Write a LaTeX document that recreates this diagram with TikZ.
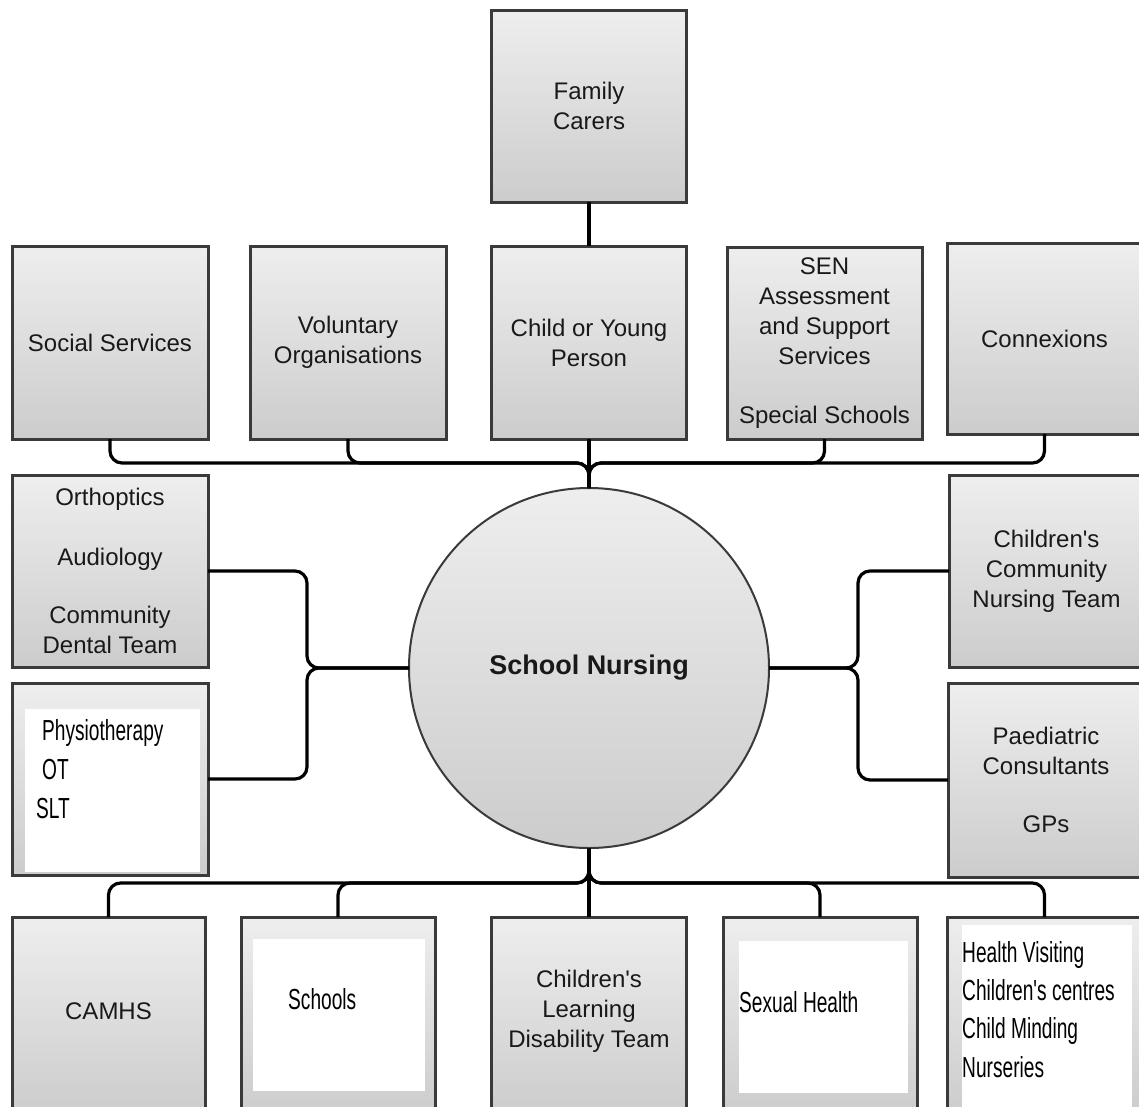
\documentclass[tikz,border=0pt]{standalone}
\usepackage{fontspec}
\setmainfont{Liberation Sans}
\newfontfamily\gfam{Liberation Sans}
\newfontfamily\narrowfam[FakeStretch=0.66]{Liberation Sans}
\newcommand\gfont{\gfam\fontsize{24}{30}\selectfont}
\newcommand\nfont{\narrowfam\fontsize{29}{39}\selectfont}
\newcommand\bfontsn{\gfam\bfseries\fontsize{27}{32}\selectfont}
\definecolor{boxline}{RGB}{58,58,58}
\definecolor{gtop}{RGB}{238,238,238}
\definecolor{gbot}{RGB}{204,204,204}
\definecolor{txt}{RGB}{25,25,25}
\tikzset{
  box/.style={draw=boxline, line width=3pt, top color=gtop, bottom color=gbot,
    inner sep=0pt, outer sep=0pt, minimum width=195pt, minimum height=192pt},
  lbl/.style={font=\gfont, text=txt, align=center, inner sep=0pt},
  nlbl/.style={font=\nfont, text=black, anchor=base west, inner sep=0pt},
  conn/.style={line width=3.2pt, black, rounded corners=12pt},
  whitein/.style={fill=white},
}
\begin{document}
\begin{tikzpicture}[x=1pt,y=-1pt]
\useasboundingbox (0,0) rectangle (1139,1106);
\clip (0,0) rectangle (1139,1106);

% top
\node[box, lbl] (fam) at (589,106) {Family\\Carers};
% second row
\node[box, lbl, minimum width=196pt, minimum height=193pt] (ss) at (110,342.5) {Social Services};
\node[box, lbl, minimum width=196pt, minimum height=193pt] (vo) at (348,342.5) {Voluntary\\Organisations};
\node[box, lbl, minimum height=193pt] (child) at (589,342.5) {Child or Young\\Person};
\node[box, lbl] (sen) at (824.5,343) {SEN\\Assessment\\and Support\\Services\\[29pt]Special Schools};
\node[box, lbl, minimum height=191pt] (conx) at (1044.5,338.5) {Connexions};
% side boxes
\node[box, lbl, minimum width=196pt] (orth) at (110,571) {Orthoptics\\[30pt]Audiology\\[28pt]Community\\Dental Team};
\node[box, minimum width=196pt] (phys) at (110,779) {};
\node[box, lbl] (ccnt) at (1046.5,571) {Children's\\Community\\Nursing Team};
\node[box, lbl, minimum width=196pt, minimum height=194pt] (paed) at (1046,780) {Paediatric\\Consultants\\[28pt]GPs};
% bottom row
\node[box, minimum width=193pt, minimum height=198pt] (camhs) at (108.5,1016) {};
\node[box, minimum width=194pt, minimum height=198pt] (schools) at (338,1016) {};
\node[box, minimum height=198pt] (cldt) at (589,1016) {};
\node[box, minimum width=194pt, minimum height=198pt] (sexh) at (820,1016) {};
\node[box, minimum height=198pt] (hv) at (1044.5,1016) {};

% white inner panels
\fill[whitein] ([shift={(13,26)}]phys.north west) rectangle ([shift={(-8,-3)}]phys.south east);
\fill[whitein] ([shift={(12,22)}]schools.north west) rectangle ([shift={(-10,-24)}]schools.south east);
\fill[whitein] ([shift={(16,24)}]sexh.north west) rectangle ([shift={(-9,-22)}]sexh.south east);
\fill[whitein] ([shift={(15,8)}]hv.north west) rectangle ([shift={(-10,0)}]hv.south east);

% centre
\node[circle, draw=boxline, line width=2pt, top color=gtop, bottom color=gbot,
  minimum size=360pt, inner sep=0pt, outer sep=0pt, font=\bfontsn, text=txt] (sn) at (589,668) {School Nursing};

% labels in bottom boxes
\node[lbl] (camhsT) at (108.5,1011) {CAMHS};
\node[lbl] (cldtT) at (589,1011) {Children's\\Learning\\Disability Team};

% narrow labels
\node[nlbl] (p1) at (42,740) {Physiotherapy};
\node[nlbl] (p2) at (42,779) {OT};
\node[nlbl] (p3) at (36,818) {SLT};
\node[nlbl] (schT) at (288,1009) {Schools};
\node[nlbl] (sexT) at (739,1012) {Sexual Health};
\node[nlbl] (h1) at (962,962) {Health Visiting};
\node[nlbl] (h2) at (962,1000) {Children's centres};
\node[nlbl] (h3) at (962,1038) {Child Minding};
\node[nlbl] (h4) at (962,1077) {Nurseries};

% junctions
\coordinate (tj) at (589,463);
\coordinate (lj) at (307,668);
\coordinate (rj) at (858,668);
\coordinate (bj) at (589,883);

% connectors
\draw[conn] (fam.south) -- (child.north);
\draw[conn] (child.south) -- (sn.north);
\draw[conn] (ss.south) |- (tj) -- (sn.north);
\draw[conn] (vo.south) |- (tj) -- (sn.north);
\draw[conn] (sen.south) |- (tj) -- (sn.north);
\draw[conn] (conx.south) |- (tj) -- (sn.north);
\draw[conn] (orth.east) -| (lj) -- (sn.west);
\draw[conn] (phys.east) -| (lj) -- (sn.west);
\draw[conn] (ccnt.west) -| (rj) -- (sn.east);
\draw[conn] (paed.west) -| (rj) -- (sn.east);
\draw[conn] (camhs.north) |- (bj) -- (sn.south);
\draw[conn] (schools.north) |- (bj) -- (sn.south);
\draw[conn] (cldt.north) -- (sn.south);
\draw[conn] (sexh.north) |- (bj) -- (sn.south);
\draw[conn] (hv.north) |- (bj) -- (sn.south);
\end{tikzpicture}
\end{document}
